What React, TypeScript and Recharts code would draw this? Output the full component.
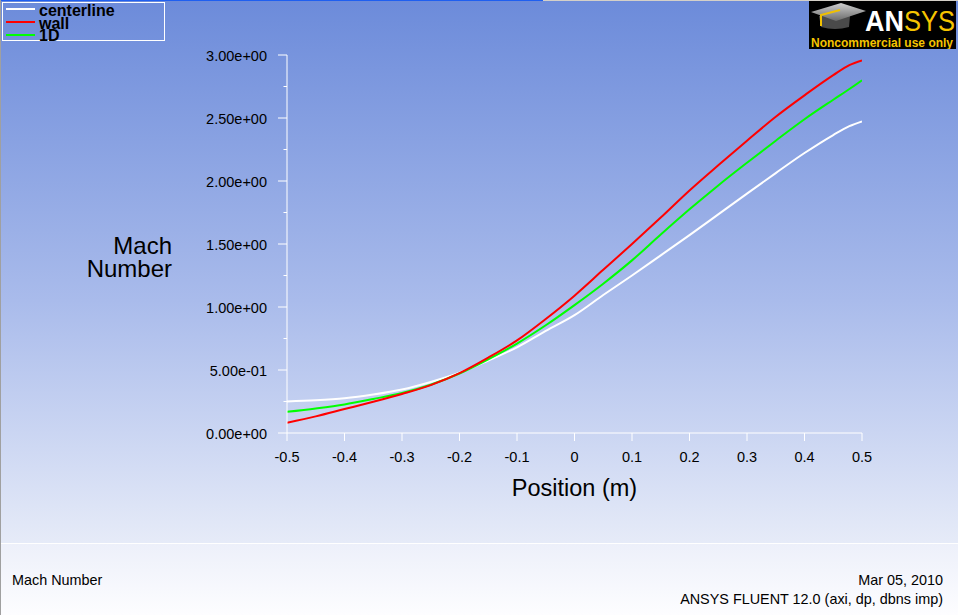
import React from 'react';
import { LineChart, Line, XAxis, YAxis, Label } from 'recharts';

// Position along the nozzle (m)
const positions = [-0.5, -0.45, -0.4, -0.35, -0.3, -0.25, -0.2, -0.15, -0.1, -0.05, 0, 0.05, 0.1, 0.15, 0.2, 0.25, 0.3, 0.35, 0.4, 0.45, 0.478, 0.5];
// Mach number series
const centerline = [0.25, 0.259, 0.275, 0.305, 0.345, 0.405, 0.478, 0.575, 0.68, 0.81, 0.935, 1.095, 1.25, 1.41, 1.57, 1.735, 1.9, 2.063, 2.222, 2.365, 2.435, 2.473];
const wall = [0.082, 0.132, 0.19, 0.248, 0.31, 0.38, 0.475, 0.598, 0.735, 0.905, 1.09, 1.295, 1.5, 1.71, 1.925, 2.125, 2.32, 2.51, 2.68, 2.84, 2.92, 2.957];
const oneD = [0.168, 0.195, 0.227, 0.27, 0.317, 0.383, 0.472, 0.585, 0.71, 0.855, 1.015, 1.185, 1.37, 1.575, 1.775, 1.965, 2.145, 2.32, 2.49, 2.645, 2.73, 2.8];

const seriesNames = ['centerline', 'wall', '1D'];
const seriesKeys = ['centerline', 'wall', 'oneD'];
const seriesColors = ['#ffffff', '#ff0000', '#00ff00'];

const xTicks = [-0.5, -0.4, -0.3, -0.2, -0.1, 0, 0.1, 0.2, 0.3, 0.4, 0.5];
const xTickLabels = ['-0.5', '-0.4', '-0.3', '-0.2', '-0.1', '0', '0.1', '0.2', '0.3', '0.4', '0.5'];
const yTicks = [0, 0.25, 0.5, 0.75, 1, 1.25, 1.5, 1.75, 2, 2.25, 2.5, 2.75, 3];
const yMajorLabels: Record<string, string> = {
  '0': '0.00e+00',
  '0.5': '5.00e-01',
  '1': '1.00e+00',
  '1.5': '1.50e+00',
  '2': '2.00e+00',
  '2.5': '2.50e+00',
  '3': '3.00e+00',
};

const data = positions.map((x, i) => ({
  x,
  centerline: centerline[i],
  wall: wall[i],
  oneD: oneD[i],
}));

const FONT = '"Liberation Sans", Arial, Helvetica, sans-serif';

const XTick = (props: any) => {
  const { x, y, payload } = props;
  const idx = xTicks.indexOf(payload.value);
  const label = idx >= 0 ? xTickLabels[idx] : String(payload.value);
  return (
    <g>
      <line x1={x} y1={y} x2={x} y2={y + 8} stroke="#ffffff" strokeWidth={1} />
      <text x={x} y={y + 29} textAnchor="middle" fontSize={14.5} fontFamily={FONT} fill="#000">
        {label}
      </text>
    </g>
  );
};

const YTick = (props: any) => {
  const { x, y, payload } = props;
  const label = yMajorLabels[String(payload.value)];
  const major = label !== undefined;
  return (
    <g>
      <line x1={x} y1={y} x2={x - (major ? 9 : 3.5)} y2={y} stroke="#ffffff" strokeWidth={1} />
      {major && (
        <text x={x - 20} y={y + 6} textAnchor="end" fontSize={14.5} fontFamily={FONT} fill="#000">
          {label}
        </text>
      )}
    </g>
  );
};

const YTitle = (props: any) => {
  const vb = props.viewBox || { x: 0, y: 0, width: 0, height: 0 };
  const xr = vb.x + vb.width - 115;
  return (
    <text textAnchor="end" fontSize={24} fontFamily={FONT} fill="#000">
      <tspan x={xr} y={254}>Mach</tspan>
      <tspan x={xr} y={277}>Number</tspan>
    </text>
  );
};

const XTitle = (props: any) => {
  const vb = props.viewBox || { x: 0, y: 0, width: 0, height: 0 };
  return (
    <text x={vb.x + vb.width / 2} y={vb.y + 63} textAnchor="middle" fontSize={23.5} fontFamily={FONT} fill="#000">
      Position (m)
    </text>
  );
};

const LegendBox = () => (
  <div
    style={{
      position: 'absolute',
      left: 2,
      top: 2,
      width: 163,
      height: 39,
      border: '1px solid #ffffff',
      boxSizing: 'border-box',
    }}
  >
    <svg width={163} height={44} style={{ position: 'absolute', left: -1, top: -1, overflow: 'visible' }}>
      {seriesNames.map((name, i) => (
        <g key={name}>
          <line x1={4} x2={33} y1={7 + i * 13} y2={7 + i * 13} stroke={seriesColors[i]} strokeWidth={2} />
          <text x={37} y={14 + i * 12.6} fontSize={16} fontWeight="bold" fontFamily={FONT} fill="#000">
            {name}
          </text>
        </g>
      ))}
    </svg>
  </div>
);

const Logo = () => (
  <svg width={149} height={49} style={{ position: 'absolute', left: 809, top: 0 }}>
    <defs>
      <linearGradient id="capTop" x1="0" y1="0" x2="0" y2="1">
        <stop offset="0" stopColor="#cfcfcf" />
        <stop offset="1" stopColor="#6a6a6a" />
      </linearGradient>
    </defs>
    <rect x={0} y={1} width={147} height={48} fill="#000" />
    <path d="M10 16 L12 27 Q26 31 40 27 L41 16 Z" fill="#4a4a4a" />
    <polygon points="2,12 32,3 57,11 27,21" fill="url(#capTop)" />
    <polyline points="31,10 12,15 12,26" fill="none" stroke="#f0c000" strokeWidth={2} />
    <text x={56} y={31} fontSize={30} fontWeight="bold" fontFamily={FONT} fill="#ffffff" textLength={39} lengthAdjust="spacingAndGlyphs">
      AN
    </text>
    <text x={95} y={31} fontSize={30} fontFamily={FONT} fill="#f5c400" textLength={51} lengthAdjust="spacingAndGlyphs">
      SYS
    </text>
    <text x={2} y={47} fontSize={12} fontWeight="bold" fontFamily={FONT} fill="#f5c400">
      Noncommercial use only
    </text>
  </svg>
);

export default function App() {
  return (
    <div
      style={{
        position: 'absolute',
        left: 0,
        top: 0,
        width: 958,
        height: 615,
        overflow: 'hidden',
        background: 'linear-gradient(to bottom, #6c8bda 0px, #a9bbeb 300px, #e6ebf8 543px)',
        fontFamily: FONT,
      }}
    >
      <div style={{ position: 'absolute', left: 0, top: 0, width: 543, height: 1, background: '#1f5ff0' }} />
      <div style={{ position: 'absolute', left: 543, top: 0, width: 415, height: 1, background: '#d4d0c8' }} />
      <div
        style={{
          position: 'absolute',
          left: 0,
          top: 543,
          width: 958,
          height: 72,
          borderTop: '1px solid #ffffff',
          boxSizing: 'border-box',
          background: 'linear-gradient(to bottom, #edf0fa, #fdfdff)',
        }}
      >
        <div style={{ position: 'absolute', left: 12, top: 28, fontSize: 14.4, color: '#000', whiteSpace: 'nowrap' }}>
          Mach Number
        </div>
        <div style={{ position: 'absolute', right: 15, top: 28, fontSize: 14.4, color: '#000', whiteSpace: 'nowrap' }}>
          Mar 05, 2010
        </div>
        <div style={{ position: 'absolute', right: 15, top: 47, fontSize: 14.4, color: '#000', whiteSpace: 'nowrap' }}>
          ANSYS FLUENT 12.0 (axi, dp, dbns imp)
        </div>
      </div>
      <div style={{ position: 'absolute', left: 0, top: 0, width: 1, height: 615, background: '#a0a0a0' }} />

      <div style={{ position: 'absolute', left: 0, top: 0 }}>
        <LineChart
          width={958}
          height={615}
          data={data}
          margin={{ top: 55, right: 96, bottom: 152, left: 0 }}
        >
          <XAxis
            dataKey="x"
            type="number"
            domain={[-0.5, 0.5]}
            ticks={xTicks}
            interval={0}
            tickLine={false}
            tickSize={0}
            tickMargin={0}
            tick={<XTick />}
            axisLine={{ stroke: '#ffffff', strokeWidth: 1 }}
            height={30}
            allowDataOverflow
          >
            <Label content={<XTitle />} />
          </XAxis>
          <YAxis
            type="number"
            domain={[0, 3]}
            ticks={yTicks}
            interval={0}
            tickLine={false}
            tickSize={0}
            tickMargin={0}
            tick={<YTick />}
            axisLine={{ stroke: '#ffffff', strokeWidth: 1 }}
            width={287}
            allowDataOverflow
          >
            <Label content={<YTitle />} />
          </YAxis>
          {[0, 2, 1].map((i) => (
            <Line
              key={seriesKeys[i]}
              dataKey={seriesKeys[i]}
              name={seriesNames[i]}
              type="monotone"
              stroke={seriesColors[i]}
              strokeWidth={2}
              dot={false}
              activeDot={false}
              isAnimationActive={false}
            />
          ))}
        </LineChart>
      </div>
      <LegendBox />
      <Logo />
    </div>
  );
}
